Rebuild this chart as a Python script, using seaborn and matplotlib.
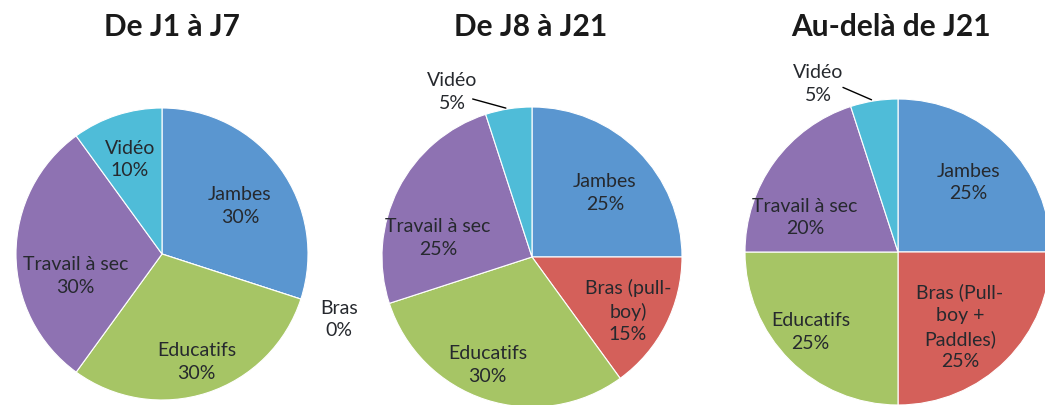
import numpy as np
import seaborn as sns
import matplotlib.pyplot as plt

sns.set_style("white")
plt.rcParams['font.family'] = ['Lato', 'DejaVu Sans']

# données
categories = ['Jambes', 'Bras', 'Educatifs', 'Travail à sec', 'Vidéo']
titres = ['De J1 à J7', 'De J8 à J21', 'Au-delà de J21']
valeurs_j1_j7 = [30, 0, 30, 30, 10]
valeurs_j8_j21 = [25, 15, 30, 25, 5]
valeurs_apres_j21 = [25, 25, 25, 20, 5]
etiquettes_j1_j7 = ['Jambes', 'Bras', 'Educatifs', 'Travail à sec', 'Vidéo']
etiquettes_j8_j21 = ['Jambes', 'Bras (pull-\nboy)', 'Educatifs', 'Travail à sec', 'Vidéo']
etiquettes_apres_j21 = ['Jambes', 'Bras (Pull-\nboy +\nPaddles)', 'Educatifs', 'Travail à sec', 'Vidéo']

couleurs = sns.color_palette(['#5A96D0', '#D4605A', '#A6C565', '#8E72B2', '#4FBCD8'])

W, H = 1045, 406
fig = plt.figure(figsize=(W / 100, H / 100), dpi=100)

# (centre x, centre y, rayon) en pixels
cadres = [(162, 255, 146), (532, 258, 150), (898, 253, 153)]
titre_x = [172, 531, 891]
# position des étiquettes : (angle en degrés, distance en rayons)
places = [
    {0: (32, 0.63), 1: (-20, 1.29), 2: (-72, 0.77), 3: (193.6, 0.61), 4: (108.6, 0.69)},
    {0: (41.7, 0.65), 1: (-28.9, 0.73), 2: (-112.5, 0.77), 3: (168, 0.64), 4: (115.7, 1.23)},
    {0: (45, 0.65), 1: (-50, 0.63), 2: (-138, 0.77), 3: (159, 0.65), 4: (115.3, 1.22)},
]
# départ du trait de rappel, relatif à l'étiquette
departs = [None, (0.12, -0.05), (0.145, -0.02)]
series = [
    (valeurs_j1_j7, etiquettes_j1_j7),
    (valeurs_j8_j21, etiquettes_j8_j21),
    (valeurs_apres_j21, etiquettes_apres_j21),
]

for k, ((vals, labs), (cx, cy, r)) in enumerate(zip(series, cadres)):
    ax = fig.add_axes([(cx - r) / W, (H - cy - r) / H, 2 * r / W, 2 * r / H])
    ax.pie(vals, colors=couleurs, startangle=90, counterclock=False,
           wedgeprops=dict(edgecolor='white', linewidth=0.8))
    ax.set_xlim(-1, 1)
    ax.set_ylim(-1, 1)
    ax.axis('off')
    debut = 90
    for i, (v, lab) in enumerate(zip(vals, labs)):
        fin = debut - v * 3.6
        ang, dist = places[k][i]
        a = np.deg2rad(ang)
        x, y = dist * np.cos(a), dist * np.sin(a)
        ax.text(x, y, f'{lab}\n{v}%', ha='center', va='center', fontsize=14,
                color='#26292e', linespacing=1.4, clip_on=False)
        if dist > 1.0 and v > 0 and departs[k] is not None:
            m = np.deg2rad((debut + fin) / 2)
            dx, dy = departs[k]
            ax.annotate('', xy=(np.cos(m), np.sin(m)), xytext=(x + dx, y + dy),
                        arrowprops=dict(arrowstyle='-', color='black', lw=1),
                        annotation_clip=False)
        debut = fin
    fig.text(titre_x[k] / W, 1 - 27 / H, titres[k], ha='center', va='center',
             fontsize=21.5, fontweight='bold', color='#1a1a1a')

fig.savefig('out.png', dpi=100, facecolor='white')
